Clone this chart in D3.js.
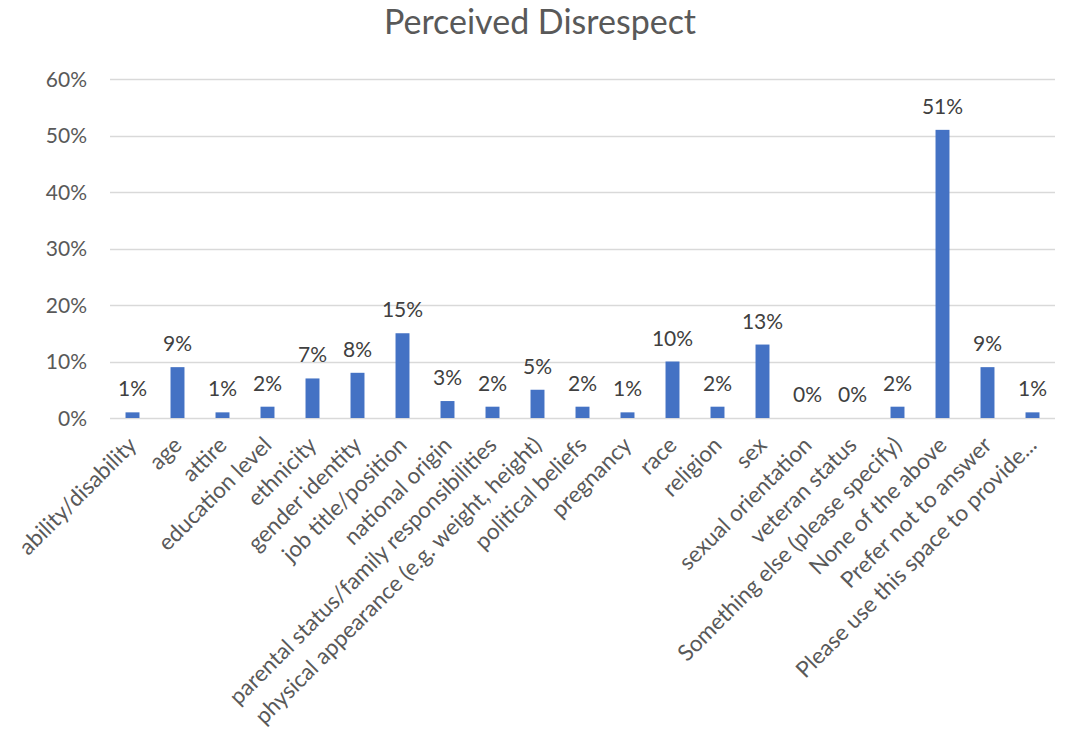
<!DOCTYPE html>
<html><head><meta charset="utf-8">
<script src="https://cdn.jsdelivr.net/npm/d3@7"></script>
<style>body{margin:0;background:#fff;} svg{display:block;}</style>
</head><body>
<svg id="c" width="1068" height="735"></svg>
<script>
const categories = ["ability/disability","age","attire","education level","ethnicity","gender identity","job title/position","national origin","parental status/family responsibilities","physical appearance (e.g. weight, height)","political beliefs","pregnancy","race","religion","sex","sexual orientation","veteran status","Something else (please specify)","None of the above","Prefer not to answer","Please use this space to provide..."];
const values = [1,9,1,2,7,8,15,3,2,5,2,1,10,2,13,0,0,2,51,9,1];
const yTicks = [0,10,20,30,40,50,60];
const title = "Perceived Disrespect";

const svg = d3.select("#c");
const F = "Lato, 'Open Sans', sans-serif";
const m = {l:110, r:1055, t:79, b:418};
const x = d3.scaleBand().domain(categories).range([m.l, m.r]).paddingInner(0.69).paddingOuter(0.345);
const y = d3.scaleLinear().domain([0,60]).range([m.b, m.t]);

svg.append("text").attr("x",540).attr("y",34).attr("text-anchor","middle")
  .attr("font-family",F).attr("font-size",34).attr("fill","#595959").text(title);

svg.append("g").selectAll("line").data(yTicks).join("line")
  .attr("x1",m.l).attr("x2",m.r).attr("y1",d=>Math.round(y(d))+0.5).attr("y2",d=>Math.round(y(d))+0.5)
  .attr("stroke","#d9d9d9").attr("stroke-width",1.4);

svg.append("g").selectAll("text").data(yTicks).join("text")
  .attr("x",87).attr("y",d=>y(d)).attr("dy","0.36em").attr("text-anchor","end")
  .attr("font-family",F).attr("font-size",21).attr("fill","#595959").text(d=>d+"%");

svg.append("g").selectAll("rect").data(values).join("rect")
  .attr("x",(d,i)=>x(categories[i])).attr("width",x.bandwidth())
  .attr("y",d=>y(d)).attr("height",d=>y(0)-y(d)).attr("fill","#4472c4");

svg.append("g").selectAll("text").data(values).join("text")
  .attr("x",(d,i)=>x(categories[i])+x.bandwidth()/2).attr("y",d=>y(d)-16)
  .attr("text-anchor","middle").attr("font-family",F).attr("font-size",21).attr("fill","#404040")
  .text(d=>d+"%");

svg.append("g").selectAll("text").data(categories).join("text")
  .attr("transform",d=>`translate(${x(d)+x.bandwidth()/2},${441}) rotate(-45)`)
  .attr("text-anchor","end").attr("dy","0.35em")
  .attr("font-family",F).attr("font-size",22.5).attr("fill","#595959").text(d=>d);
</script>
</body></html>
